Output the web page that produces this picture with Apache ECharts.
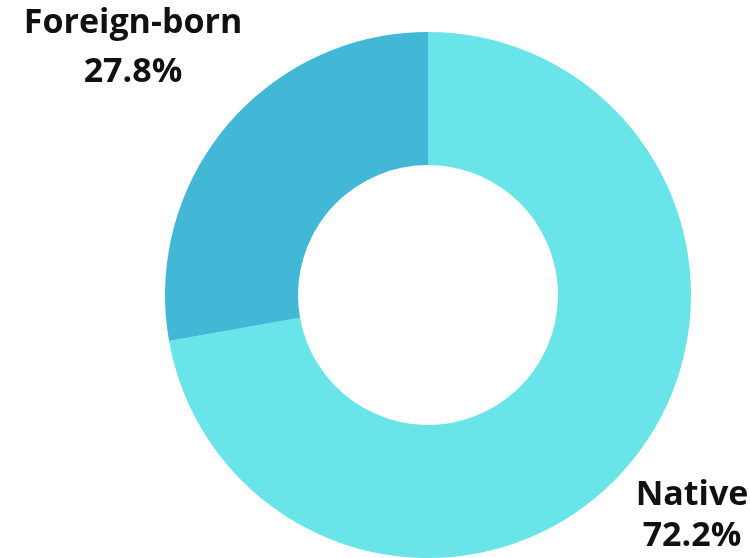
<!DOCTYPE html>
<html>
<head>
<meta charset="utf-8">
<script src="https://cdn.jsdelivr.net/npm/echarts@6/dist/echarts.min.js"></script>
<style>
  html, body { margin: 0; padding: 0; background: #fff; }
  #chart { width: 750px; height: 558px; }
</style>
</head>
<body>
<div id="chart"></div>
<script>
// data
var categories = ['Native', 'Foreign-born'];
var shares = [72.2, 27.8];
var colors = ['#69E4E8', '#42B8D6'];

// where each label sits (centre of text block)
var labelPos = [
  { x: 692, y: 516, lh: 41 },
  { x: 133, y: 48, lh: 49 }
];

var chart = echarts.init(document.getElementById('chart'));

var pieData = categories.map(function (name, i) {
  return {
    name: name,
    value: shares[i],
    itemStyle: { color: colors[i] },
    label: { lineHeight: labelPos[i].lh }
  };
});

var option = {
  animation: false,
  series: [
    {
      type: 'pie',
      center: [428, 295],
      radius: [130, 263],
      startAngle: 90,
      clockwise: true,
      avoidLabelOverlap: false,
      label: {
        show: true,
        position: 'outside',
        formatter: '{b}\n{c}%',
        fontFamily: 'Open Sans',
        fontWeight: 'bold',
        fontSize: 34,
        color: '#111',
        align: 'center'
      },
      labelLine: { show: false },
      labelLayout: function (params) {
        var p = labelPos[params.dataIndex];
        return { x: p.x, y: p.y, align: 'center', verticalAlign: 'middle' };
      },
      data: pieData
    }
  ]
};

chart.setOption(option);
</script>
</body>
</html>
